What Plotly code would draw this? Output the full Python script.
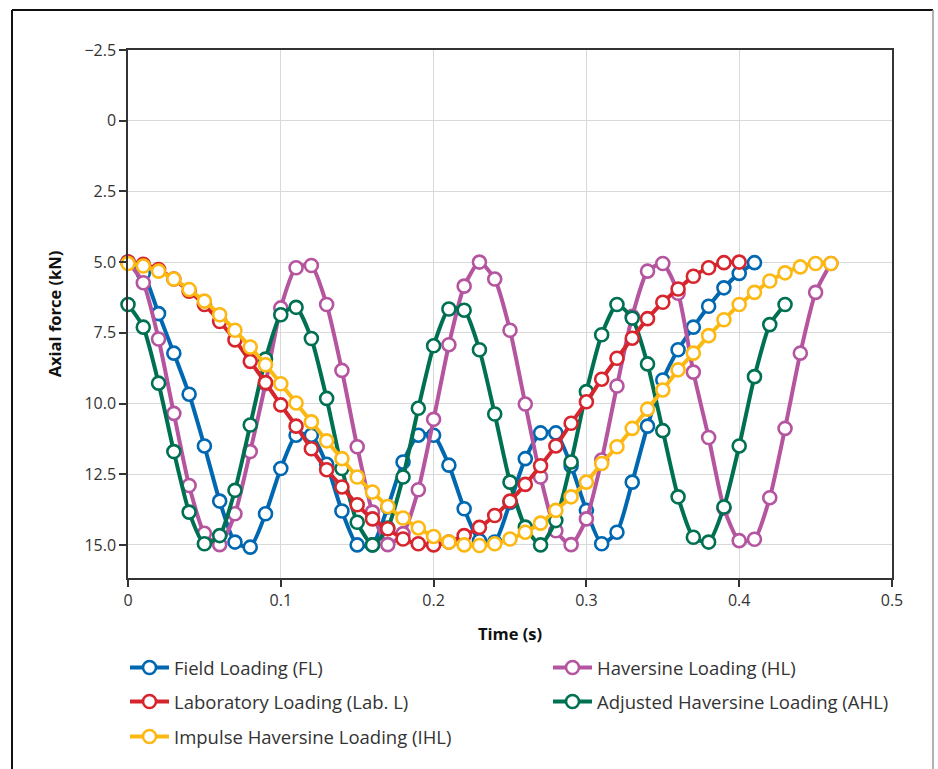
import plotly.graph_objects as go

# time axis (s), sampled every 0.01 s
t_all = [round(i * 0.01, 2) for i in range(47)]

fl = [5.0, 5.4, 6.82, 8.22, 9.67, 11.5, 13.45, 14.9, 15.08, 13.9, 12.3, 11.12, 11.12, 12.15,
      13.8, 15.0, 15.0, 13.66, 12.07, 11.12, 11.12, 12.18, 13.72, 14.85, 14.9, 13.5, 11.95,
      11.04, 11.04, 12.2, 13.78, 14.96, 14.55, 12.78, 10.8, 9.17, 8.1, 7.3, 6.56, 5.91, 5.4, 5.02]
hl = [5.0, 5.73, 7.72, 10.35, 12.9, 14.59, 14.99, 13.9, 11.7, 9.3, 6.62, 5.2, 5.12, 6.5, 8.83,
      11.53, 13.84, 14.99, 14.6, 13.05, 10.56, 7.92, 5.85, 5.0, 5.6, 7.41, 10.02, 12.6, 14.5,
      14.99, 14.08, 12.0, 9.38, 6.92, 5.32, 5.05, 6.1, 8.89, 11.2, 13.7, 14.85, 14.8, 13.33,
      10.88, 8.22, 6.07, 5.05]
lab = [5.0, 5.08, 5.26, 5.6, 6.03, 6.5, 7.1, 7.75, 8.51, 9.26, 10.05, 10.8, 11.6, 12.34, 12.95,
       13.58, 14.08, 14.43, 14.79, 14.96, 15.0, 14.9, 14.67, 14.38, 13.96, 13.45, 12.86, 12.2,
       11.5, 10.7, 9.94, 9.14, 8.4, 7.69, 7.0, 6.42, 5.95, 5.5, 5.2, 5.02, 5.0]
ahl = [6.5, 7.3, 9.28, 11.7, 13.84, 14.96, 14.67, 13.07, 10.76, 8.43, 6.86, 6.6, 7.7, 9.82,
       12.3, 14.2, 15.0, 14.4, 12.6, 10.17, 7.96, 6.66, 6.7, 8.1, 10.37, 12.78, 14.37, 15.0,
       14.14, 12.07, 9.58, 7.57, 6.5, 6.98, 8.6, 10.96, 13.3, 14.73, 14.9, 13.66, 11.5, 9.05,
       7.21, 6.5]
ihl = [5.05, 5.14, 5.32, 5.6, 5.97, 6.38, 6.86, 7.41, 8.0, 8.63, 9.3, 9.98, 10.65, 11.32, 11.95,
       12.6, 13.13, 13.64, 14.05, 14.4, 14.7, 14.9, 15.0, 15.02, 14.96, 14.79, 14.55, 14.23,
       13.78, 13.3, 12.78, 12.12, 11.53, 10.88, 10.2, 9.52, 8.81, 8.22, 7.6, 7.04, 6.5, 6.07,
       5.67, 5.38, 5.17, 5.05, 5.05]

names = ["Field Loading (FL)", "Haversine Loading (HL)", "Adjusted Haversine Loading (AHL)",
         "Laboratory Loading (Lab. L)", "Impulse Haversine Loading (IHL)"]
series = [fl, hl, ahl, lab, ihl]
colors = ["#0067b1", "#b5549f", "#007052", "#d7252e", "#fdb813"]
legend_ids = ["legend", "legend2", "legend4", "legend3", "legend5"]

x_ticks = [0, 0.1, 0.2, 0.3, 0.4, 0.5]
x_labels = ["0", "0.1", "0.2", "0.3", "0.4", "0.5"]
y_ticks = [-2.5, 0, 2.5, 5.0, 7.5, 10.0, 12.5, 15.0]
y_labels = ["\u22122.5", "0", "2.5", "5.0", "7.5", "10.0", "12.5", "15.0"]

FONT = "Open Sans"
fig = go.Figure()
for nm, ys, c, lg in zip(names, series, colors, legend_ids):
    fig.add_trace(go.Scatter(
        x=t_all[:len(ys)], y=ys, name=nm, mode="lines+markers",
        line=dict(color=c, width=4, shape="spline", smoothing=0.6),
        marker=dict(symbol="circle", size=13, color="white", line=dict(color=c, width=2.6)),
        legend=lg, showlegend=True, cliponaxis=False,
    ))

L, R, T, B = 128, 46, 50, 191
W, H = 938, 769
pw, ph = W - L - R, H - T - B

def py(pix):
    return (H - B - pix) / ph

def px(pix):
    return (pix - L) / pw

leg_common = dict(orientation="h", xanchor="left", yanchor="middle", bgcolor="rgba(0,0,0,0)",
                  font=dict(family=FONT, size=18.5, color="#333333"), itemwidth=39)

fig.update_layout(
    width=W, height=H, margin=dict(l=L, r=R, t=T, b=B),
    paper_bgcolor="white", plot_bgcolor="white", showlegend=True,
    font=dict(family=FONT, size=16, color="#333333"),
    legend=dict(x=px(125), y=py(668), **leg_common),
    legend2=dict(x=px(548), y=py(668), **leg_common),
    legend3=dict(x=px(125), y=py(702), **leg_common),
    legend4=dict(x=px(548), y=py(702), **leg_common),
    legend5=dict(x=px(125), y=py(737), **leg_common),
    xaxis=dict(range=[0, 0.5], tickvals=x_ticks, ticktext=x_labels, showgrid=True,
               gridcolor="#d9d9d9", gridwidth=1, showline=True, linecolor="#333333", linewidth=1.5,
               mirror=True, ticks="outside", ticklen=7, tickcolor="#333333", tickwidth=1.5,
               zeroline=False, tickfont=dict(size=16),
               title=dict(text="<b>Time (s)</b>", font=dict(size=16.5, color="#111111"), standoff=18)),
    yaxis=dict(range=[16.17, -2.5], tickvals=y_ticks, ticktext=y_labels, showgrid=True,
               gridcolor="#d9d9d9", gridwidth=1, showline=True, linecolor="#333333", linewidth=1.5,
               mirror=True, ticks="outside", ticklen=7, tickcolor="#333333", tickwidth=1.5,
               zeroline=False, tickfont=dict(size=16),
               title=dict(text="<b>Axial force (kN)</b>", font=dict(size=16.5, color="#111111"), standoff=19)),
    shapes=[
        dict(type="line", xref="paper", yref="paper", x0=px(12), x1=px(12), y0=py(10), y1=py(790),
             line=dict(color="#111111", width=2)),
        dict(type="line", xref="paper", yref="paper", x0=px(12), x1=px(933), y0=py(10), y1=py(10),
             line=dict(color="#111111", width=2)),
        dict(type="line", xref="paper", yref="paper", x0=px(933), x1=px(933), y0=py(10), y1=py(790),
             line=dict(color="#999999", width=1.5)),
    ],
)

fig.write_html("out.html")
